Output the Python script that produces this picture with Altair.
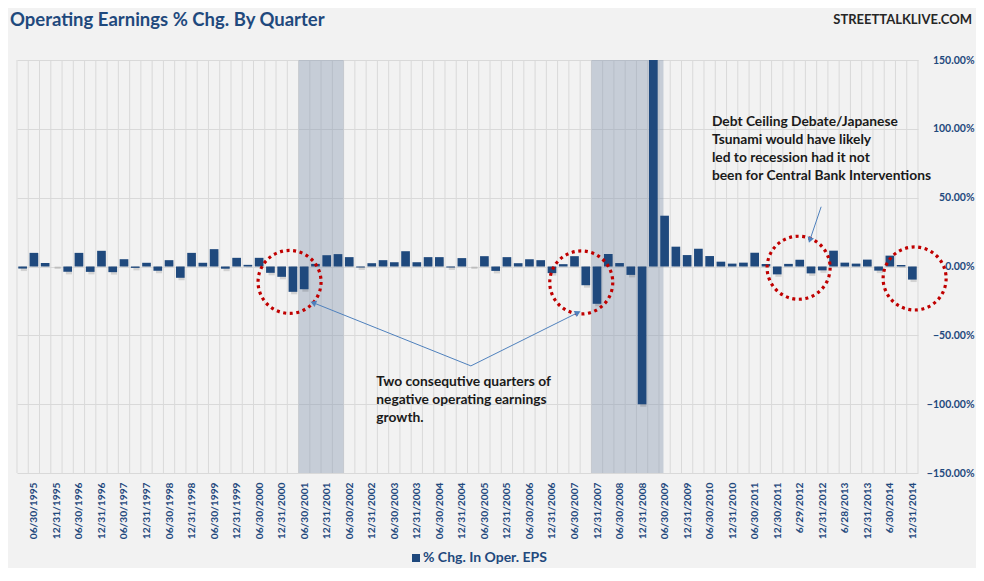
import math
import altair as alt
import pandas as pd

# ---------------- data ----------------
tick_labels = [
    "06/30/1995", "12/31/1995", "06/30/1996", "12/31/1996", "06/30/1997", "12/31/1997",
    "06/30/1998", "12/31/1998", "06/30/1999", "12/31/1999", "06/30/2000", "12/31/2000",
    "06/30/2001", "12/31/2001", "06/30/2002", "12/31/2002", "06/30/2003", "12/31/2003",
    "06/30/2004", "12/31/2004", "06/30/2005", "12/31/2005", "06/30/2006", "12/31/2006",
    "06/30/2007", "12/31/2007", "06/30/2008", "12/31/2008", "06/30/2009", "12/31/2009",
    "06/30/2010", "12/31/2010", "06/30/2011", "12/30/2011", "6/29/2012", "12/31/2012",
    "6/28/2013", "12/31/2013", "6/30/2014", "12/31/2014",
]

# quarterly % change in operating EPS, 1995Q1 .. 2014Q4 (2009Q1 is off the chart)
eps_change = [
    -1.5, 9.9, 2.6, 0.0, -3.9, 9.9, -3.9, 11.4, -4.1, 5.3,
    -1.0, 2.7, -3.1, 4.6, -8.2, 9.9, 2.7, 12.6, -1.6, 6.3,
    1.2, 6.3, -4.6, -7.5, -18.4, -16.5, 1.9, 8.2, 9.0, 6.8,
    -0.7, 2.4, 4.6, 3.1, 11.1, 3.1, 6.8, 6.8, -0.7, 6.1,
    0.0, 7.5, -3.2, 6.8, 2.4, 5.3, 4.6, -4.8, 1.7, 7.5,
    -13.6, -27.1, 9.1, 2.5, -6.1, -100.0, 400.0, 36.9, 14.4, 8.3,
    12.9, 7.6, 3.5, 2.1, 2.8, 10.0, 1.8, -5.7, 1.9, 4.9,
    -5.0, -2.8, 11.5, 2.8, 2.1, 5.0, -3.0, 7.9, 1.1, -9.5,
]

# shaded recession bands (in quarter-index units)
shade_from = [24.5, 50.5]
shade_to = [28.5, 56.9]

# annotation circles (quarter index, % value)
circle_x = [23.7, 49.6, 68.9, 79.2]
circle_y = [-11.2, -11.6, -0.9, -8.7]

# arrows: tail -> head
arrow_x = [39.8, 39.8, 70.9]
arrow_y = [-72.2, -72.2, 43.4]
arrow_x2 = [25.8, 49.3, 69.9]
arrow_y2 = [-26.3, -33.5, 19.2]

note_texts = [
    "Two consequtive quarters of\nnegative operating earnings\ngrowth.",
    "Debt Ceiling Debate/Japanese\nTsunami would have likely\nled to recession had it not\nbeen for Central Bank Interventions",
]
note_x = [31.4, 61.2]
note_y = [-79.0, 110.2]

# ---------------- layout ----------------
W, H = 901, 413
N = len(eps_change)
YMIN, YMAX = -150, 150
px_x = W / N
px_y = H / (YMAX - YMIN)

BLUE = "#1F497D"
GRID = "#D9D9D9"
BG = "#F2F2F2"
FONT = "Lato"

xs = alt.Scale(domain=[-0.5, N - 0.5], nice=False, zero=False)
ys = alt.Scale(domain=[YMIN, YMAX], nice=False, zero=False)

label_expr = "[" + ",".join("'" + t + "'" for t in tick_labels) + "][(datum.value - 1) / 2]"

x_axis = alt.Axis(
    values=[i for i in range(1, N, 2)],
    labelExpr=label_expr,
    labelAngle=270,
    labelAlign="right",
    labelBaseline="middle",
    labelPadding=9,
    labelFont=FONT,
    labelFontSize=10.2,
    labelFontWeight="bold",
    labelColor=BLUE,
    labelOverlap=False,
    ticks=False,
    domain=False,
    grid=False,
    title=None,
)
y_axis = alt.Axis(
    orient="right",
    values=[-150, -100, -50, 0, 50, 100, 150],
    labelExpr="format(datum.value, '.2f') + '%'",
    labelAlign="right",
    labelPadding=56,
    labelFont=FONT,
    labelFontSize=10.5,
    labelFontWeight="bold",
    labelColor=BLUE,
    labelBound=False,
    grid=True,
    gridColor=GRID,
    gridWidth=1,
    ticks=False,
    domain=False,
    title=None,
)


def X(field):
    return alt.X(field, scale=xs, axis=x_axis)


def Y(field):
    return alt.Y(field, scale=ys, axis=y_axis)


bars_df = pd.DataFrame({"idx": list(range(N)), "v": eps_change})
grid_df = pd.DataFrame({"b": [i - 0.5 for i in range(N + 1)], "lo": YMIN, "hi": YMAX})
shade_df = pd.DataFrame({"s": shade_from, "e": shade_to, "lo": YMIN, "hi": YMAX})
circ_df = pd.DataFrame({"cx": circle_x, "cy": circle_y})

angles = []
for x1, y1, x2, y2 in zip(arrow_x, arrow_y, arrow_x2, arrow_y2):
    dx = (x2 - x1) * px_x
    dy = -(y2 - y1) * px_y
    angles.append(math.degrees(math.atan2(dx, -dy)) % 360)
arrow_df = pd.DataFrame({"x": arrow_x, "y": arrow_y, "x2": arrow_x2, "y2": arrow_y2, "ang": angles})
note_df = pd.DataFrame({"x": note_x, "y": note_y, "t": note_texts})

vgrid = alt.Chart(grid_df).mark_rule(color=GRID, strokeWidth=1).encode(
    x=X("b:Q"), y=Y("lo:Q"), y2="hi:Q"
)

shade = alt.Chart(shade_df).mark_rect(color="#8496B0", opacity=0.4).encode(
    x=X("s:Q"), x2="e:Q", y=Y("lo:Q"), y2="hi:Q"
)

base_bars = alt.Chart(bars_df).transform_calculate(
    x0="datum.idx - 0.385", x1="datum.idx + 0.385", zero="0"
)

shadow = base_bars.mark_rect(color="#000000", opacity=0.13, clip=True, xOffset=2.5, yOffset=2.5).encode(
    x=X("x0:Q"), x2="x1:Q", y=Y("v:Q"), y2="zero:Q"
)

bars = base_bars.mark_rect(color=BLUE, clip=True).encode(
    x=X("x0:Q"), x2="x1:Q", y=Y("v:Q"), y2="zero:Q"
)

circles = alt.Chart(circ_df).mark_point(
    shape="circle", size=3970, filled=False, stroke="#C00000", strokeWidth=3.2,
    strokeDash=[3, 3.6], opacity=1,
).encode(x=X("cx:Q"), y=Y("cy:Q"))

arrow_lines = alt.Chart(arrow_df).mark_rule(color="#4F81BD", strokeWidth=1).encode(
    x=X("x:Q"), y=Y("y:Q"), x2="x2:Q", y2="y2:Q"
)

arrow_heads = alt.Chart(arrow_df).mark_point(
    shape="triangle-up", filled=True, color="#4F81BD", size=45, opacity=1
).encode(
    x=X("x2:Q"), y=Y("y2:Q"), angle=alt.Angle("ang:Q", scale=None)
)

notes = alt.Chart(note_df).mark_text(
    align="left", baseline="top", lineBreak="\n", lineHeight=18,
    font=FONT, fontSize=13.8, fontWeight="bold", color="#1A1A1A",
).encode(x=X("x:Q"), y=Y("y:Q"), text="t:N")

title = alt.Chart(pd.DataFrame({"t": ["Operating Earnings % Chg. By Quarter"]})).mark_text(
    align="left", baseline="middle", font=FONT,
    fontSize=18.5, fontWeight="bold", color=BLUE,
).encode(x=alt.value(-7), y=alt.value(-40), text="t:N")

site = alt.Chart(pd.DataFrame({"t": ["STREETTALKLIVE.COM"]})).mark_text(
    align="right", baseline="middle", font=FONT,
    fontSize=13, fontWeight="bold", color="#262626",
).encode(x=alt.value(955), y=alt.value(-40), text="t:N")

legend_sq = alt.Chart(pd.DataFrame({"t": ["% Chg. In Oper. EPS"]})).mark_square(
    color=BLUE, size=64, opacity=1
).encode(x=alt.value(399), y=alt.value(498))

legend_txt = alt.Chart(pd.DataFrame({"t": ["% Chg. In Oper. EPS"]})).mark_text(
    align="left", baseline="middle", font=FONT, fontSize=14, fontWeight="bold", color=BLUE,
).encode(x=alt.value(406), y=alt.value(498), text="t:N")

chart = alt.layer(
    vgrid, shade, shadow, bars, circles, arrow_lines, arrow_heads, notes,
    title, site, legend_sq, legend_txt,
).properties(
    width=W,
    height=H,
    padding={"left": 9, "top": 52, "right": 58, "bottom": 95},
    autosize=alt.AutoSizeParams(type="none"),
    background=BG,
).configure_view(stroke=None, fill=BG)

chart.save("out.html", embed_options={"renderer": "svg", "actions": False})
